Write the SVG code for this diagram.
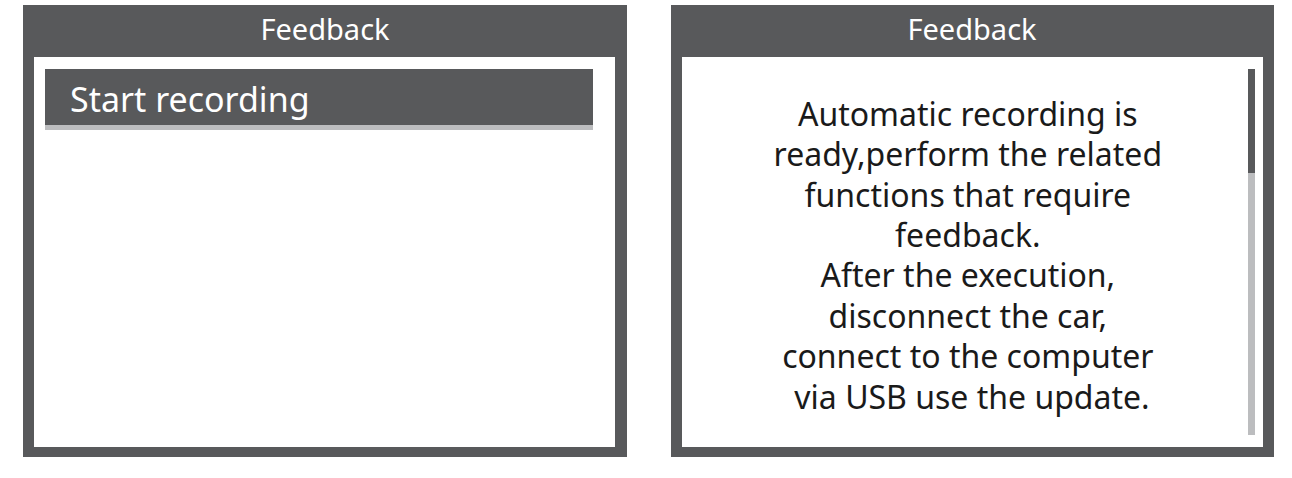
<svg xmlns="http://www.w3.org/2000/svg" width="1292" height="478" viewBox="0 0 1292 478">
<style>
.frame{fill:#58595b}
.screen{fill:#fff}
.title{font-family:"Noto Sans","Open Sans",sans-serif;font-size:29px;fill:#fff;text-anchor:middle}
.body{font-family:"Noto Sans","Open Sans",sans-serif;font-size:32px;fill:#1a1a1a;text-anchor:middle}
</style>
<rect width="1292" height="478" fill="#fff"/>
<g id="left-panel">
<rect class="frame" x="23" y="5" width="604" height="452"/>
<rect class="screen" x="34" y="57" width="581" height="390"/>
<text class="title" x="325" y="40">Feedback</text>
<g id="start-recording">
<rect x="45" y="69" width="548" height="56" fill="#58595b"/>
<rect x="45" y="125" width="548" height="5" fill="#bcbdbf"/>
<text x="70" y="112" font-family="Noto Sans, Open Sans, sans-serif" font-size="34" fill="#fff">Start recording</text>
</g>
</g>
<g id="right-panel">
<rect class="frame" x="671" y="5" width="603" height="452"/>
<rect class="screen" x="682" y="57" width="581" height="390"/>
<text class="title" x="972" y="40">Feedback</text>
<g id="scrollbar">
<rect x="1248" y="69" width="7" height="366" fill="#bcbdbf"/>
<rect x="1248" y="69" width="7" height="104" fill="#58595b"/>
</g>
<text class="body">
<tspan x="972" y="126">Automatic recording is</tspan>
<tspan x="972" y="166">ready,perform the related</tspan>
<tspan x="972" y="207">functions that require</tspan>
<tspan x="972" y="247">feedback.</tspan>
<tspan x="972" y="287">After the execution,</tspan>
<tspan x="972" y="328">disconnect the car,</tspan>
<tspan x="972" y="368">connect to the computer</tspan>
<tspan x="972" y="409">via USB use the update.</tspan>
</text>
</g>
</svg>
